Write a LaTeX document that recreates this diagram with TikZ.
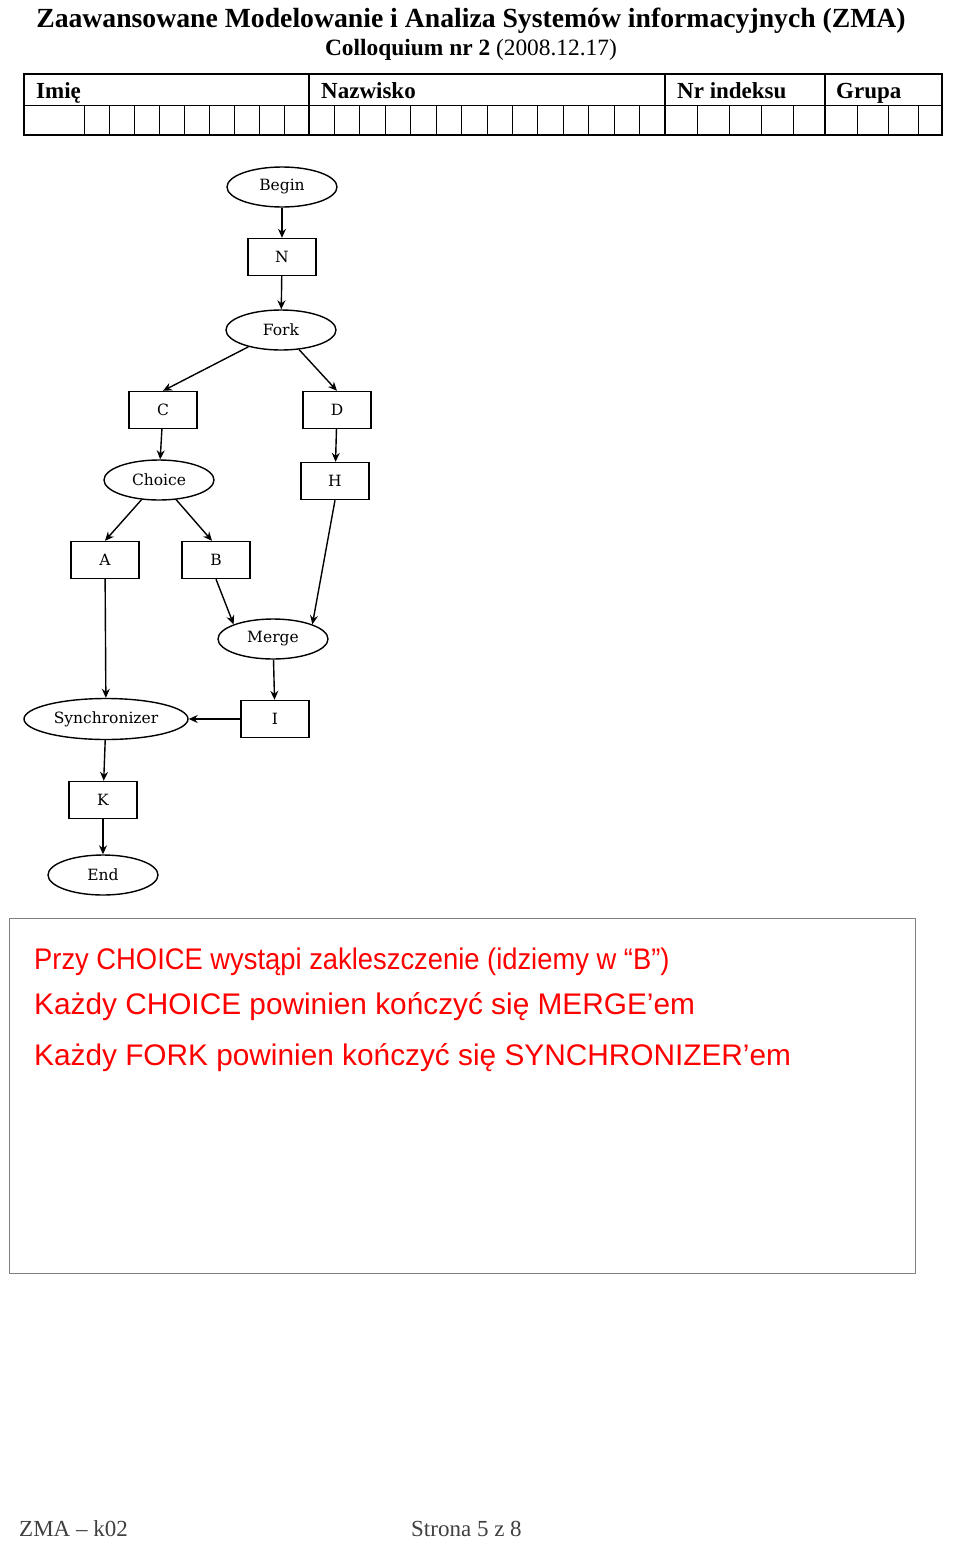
\documentclass[tikz,border=0pt]{standalone}
\usepackage{fontspec}
\setmainfont{Liberation Serif}
\newfontfamily\nodefont{DejaVu Serif}
\newfontfamily\notefont{Liberation Sans}
\newfontfamily\narrownotefont[FakeStretch=0.918]{Liberation Sans}
\usetikzlibrary{arrows.meta,shapes.geometric}

\tikzset{
	state/.style={ellipse, draw, line width=1.4pt, minimum width=110pt, minimum height=40pt, inner sep=0pt, font=\nodefont\fontsize{15.5}{15.5}\selectfont},
	action/.style={rectangle, draw, line width=1.4pt, minimum width=68pt, minimum height=37pt, inner sep=0pt, font=\nodefont\fontsize{15.5}{15.5}\selectfont},
	flow/.style={line width=1.4pt, -{Stealth[length=9pt,width=8pt,inset=3pt]}},
	note/.style={anchor=base west, inner sep=0pt, text=red, font=\notefont\fontsize{29.8}{30}\selectfont}
}

\begin{document}
\begin{tikzpicture}[x=1pt, y=-1pt]
	\useasboundingbox (0,0) rectangle (954,1545);
	\fill[white] (0,0) rectangle (954,1545);

	% header
	\node[anchor=base, inner sep=0pt, font=\bfseries\fontsize{27.7}{28}\selectfont] (title) at (471,27.5) {Zaawansowane Modelowanie i Analiza Systemów informacyjnych (ZMA)};
	\node[anchor=base, inner sep=0pt, font=\fontsize{23.4}{23.4}\selectfont] (subtitle) at (471,55) {\textbf{Colloquium nr 2} (2008.12.17)};

	% table
	\draw[line width=1.5pt] (24,74) rectangle (942,135);
	\draw[line width=0.9pt] (24,105) -- (942,105);
	\draw[line width=1.5pt] (309,74) -- (309,135) (665,74) -- (665,135) (825,74) -- (825,135);
	\foreach \x in {84,109,...,284}
		\draw[line width=0.9pt] (\x,105) -- (\x,135);
	\foreach \i in {1,...,13}
		\draw[line width=0.9pt] ({309+\i*25.43},105) -- ++(0,30);
	\foreach \x in {697,729,761,793,857,888,918}
		\draw[line width=0.9pt] (\x,105) -- (\x,135);
	\node[anchor=base west, inner sep=0pt, font=\bfseries\fontsize{23}{23}\selectfont] (imie) at (36,98) {Imię};
	\node[anchor=base west, inner sep=0pt, font=\bfseries\fontsize{23}{23}\selectfont] (nazwisko) at (321,98) {Nazwisko};
	\node[anchor=base west, inner sep=0pt, font=\bfseries\fontsize{23}{23}\selectfont] (indeks) at (677,98) {Nr indeksu};
	\node[anchor=base west, inner sep=0pt, font=\bfseries\fontsize{23}{23}\selectfont] (grupa) at (836,98) {Grupa};

	% activity diagram
	\node[state] (begin) at (282,187) {Begin};
	\node[action] (n) at (282,257) {N};
	\node[state] (fork) at (281,330) {Fork};
	\node[action] (c) at (163,410) {C};
	\node[action] (d) at (337,410) {D};
	\node[state] (choice) at (159,480) {Choice};
	\node[action] (h) at (335,481) {H};
	\node[action] (a) at (105,560) {A};
	\node[action] (b) at (216,560) {B};
	\node[state] (merge) at (273,639) {Merge};
	\node[state, minimum width=164pt, minimum height=41pt] (sync) at (106,719) {Synchronizer};
	\node[action] (i) at (275,719) {I};
	\node[action] (k) at (103,800) {K};
	\node[state] (end) at (103,875) {End};

	\draw[flow] (begin) -- (n);
	\draw[flow] (n) -- (fork);
	\draw[flow] (fork) -- (c.north);
	\draw[flow] (fork) -- (d.north);
	\draw[flow] (c) -- (choice);
	\draw[flow] (d) -- (h);
	\draw[flow] (choice) -- (a.north);
	\draw[flow] (choice) -- ([xshift=-4pt]b.north);
	\draw[flow] (b.south) -- (merge.north west);
	\draw[flow] (h.south) -- (merge.north east);
	\draw[flow] (merge) -- (i);
	\draw[flow] (a) -- (sync);
	\draw[flow] (i) -- (sync);
	\draw[flow] (sync) -- (k);
	\draw[flow] (k) -- (end);

	% answer box
	\draw[line width=1pt, color=gray] (9,918) rectangle (915,1273);
	\node[note, font=\narrownotefont\fontsize{29.8}{30}\selectfont] (line1) at (34,969) {Przy CHOICE wystąpi zakleszczenie (idziemy w “B”)};
	\node[note] (line2) at (34,1014) {Każdy CHOICE powinien kończyć się MERGE’em};
	\node[note] (line3) at (34,1065) {Każdy FORK powinien kończyć się SYNCHRONIZER’em};

	% footer
	\node[anchor=base west, inner sep=0pt, text=darkgray, font=\fontsize{23}{23}\selectfont] (code) at (19,1536) {ZMA – k02};
	\node[anchor=base west, inner sep=0pt, text=darkgray, font=\fontsize{23}{23}\selectfont] (page) at (411,1536) {Strona 5 z 8};
\end{tikzpicture}
\end{document}
